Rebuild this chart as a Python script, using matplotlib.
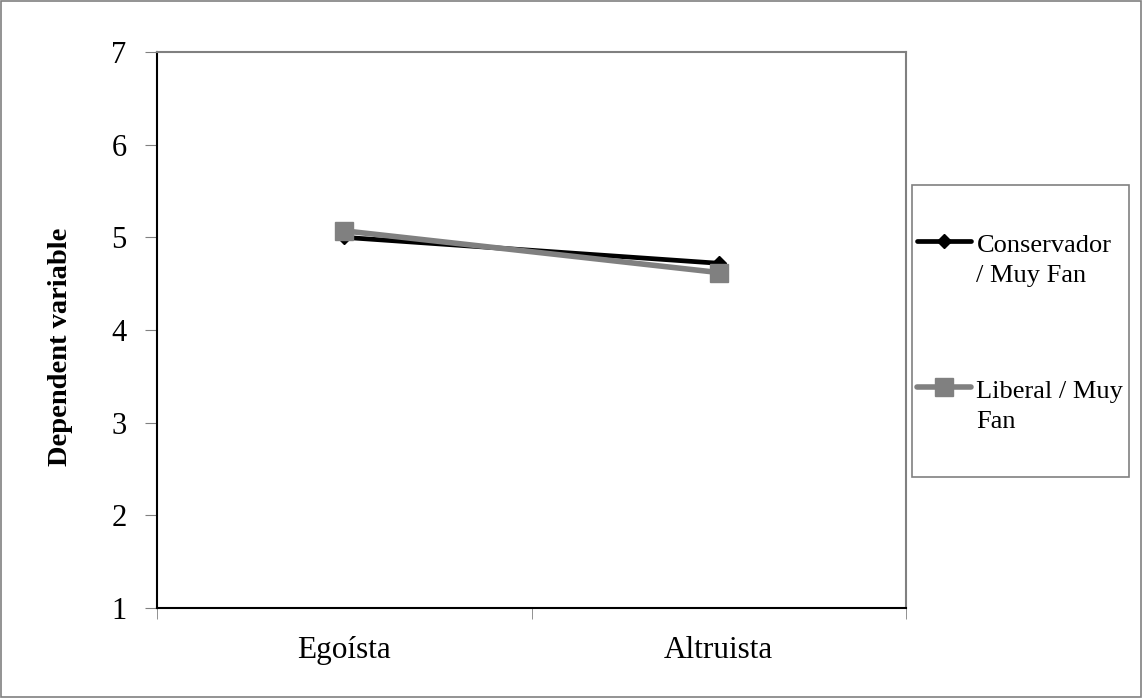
import matplotlib
matplotlib.use("Agg")
import matplotlib.pyplot as plt
from matplotlib.legend_handler import HandlerLine2D

plt.rcParams['font.family'] = ['Liberation Serif', 'DejaVu Serif']

categories = ["Egoísta", "Altruista"]
conservador = [5.00, 4.72]
liberal = [5.07, 4.62]
series_labels = ["Conservador\n/ Muy Fan", "Liberal / Muy\nFan"]
y_ticks = [1, 2, 3, 4, 5, 6, 7]

W, H = 1142, 698
fig = plt.figure(figsize=(W / 100, H / 100), dpi=100)
ax = fig.add_axes([157 / W, 1 - 608 / H, (906 - 157) / W, (608 - 52) / H])

x = [0.5, 1.5]
ax.plot(x, conservador, color="black", lw=3.4, marker="D", ms=7,
        mfc="black", mec="black", label=series_labels[0], zorder=3,
        solid_capstyle="round")
ax.plot(x, liberal, color="#808080", lw=4.0, marker="s", ms=13,
        mfc="#808080", mec="#808080", label=series_labels[1], zorder=4,
        solid_capstyle="round")

ax.set_xlim(0, 2)
ax.set_ylim(1, 7)
ax.set_yticks(y_ticks)
ax.set_xticks([0.5, 1.5])
ax.set_xticklabels(categories)
ax.set_xticks([0, 1, 2], minor=True)
ax.tick_params(axis="x", which="major", length=0, labelsize=22.5, pad=20)
ax.tick_params(axis="x", which="minor", length=8, color="#808080", direction="out")
ax.tick_params(axis="y", length=9, color="#808080", labelsize=22, pad=13)

ax.spines["left"].set_color("black")
ax.spines["bottom"].set_color("black")
ax.spines["top"].set_color("#808080")
ax.spines["right"].set_color("#808080")
for s in ax.spines.values():
    s.set_linewidth(1.5)

ax.set_ylabel("Dependent variable", fontsize=20.5, fontweight="bold")
ax.yaxis.set_label_coords(-0.112, 0.469)


class FirstLineHandler(HandlerLine2D):
    """Line handle raised to sit beside the first line of a two-line label."""

    def create_artists(self, legend, orig_handle, xdescent, ydescent,
                       width, height, fontsize, trans):
        artists = super().create_artists(legend, orig_handle, xdescent, ydescent,
                                         width, height, fontsize, trans)
        for a in artists:
            a.set_ydata([y + 0.72 * fontsize for y in a.get_ydata()])
        return artists


# legend box
x0, y0, x1, y1 = 912, 185, 1129, 477
fig.patches.append(plt.Rectangle((x0 / W, 1 - y1 / H), (x1 - x0) / W, (y1 - y0) / H,
                                 transform=fig.transFigure, fill=False,
                                 edgecolor="#808080", lw=1.2))
handles, labels = ax.get_legend_handles_labels()
leg = fig.legend(handles, labels, loc="center left", bbox_to_anchor=(917 / W, 1 - 334 / H),
                 fontsize=19, frameon=False, handlelength=2.05, handletextpad=0.2,
                 labelspacing=3.55, borderpad=0, borderaxespad=0,
                 handler_map={h: FirstLineHandler() for h in handles})
for t in leg.get_texts():
    t.set_linespacing(1.5)

# outer border
fig.patches.append(plt.Rectangle((0.001, 0.001), 0.998, 0.998, transform=fig.transFigure,
                                 fill=False, edgecolor="#808080", lw=1.2))

fig.savefig("out.png", dpi=100)
